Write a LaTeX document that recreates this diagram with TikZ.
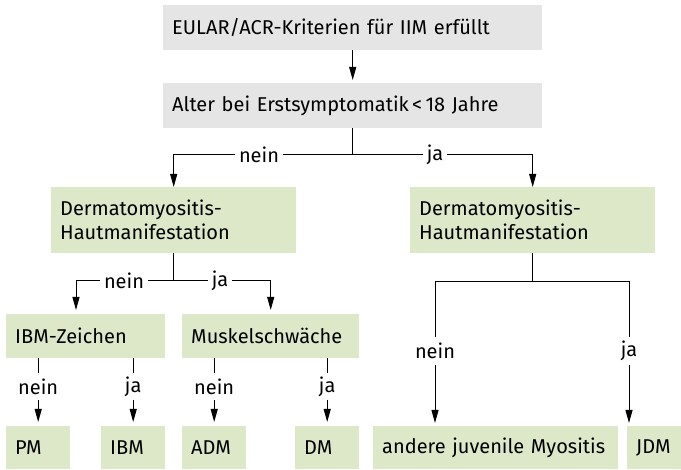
\documentclass[tikz,border=0pt]{standalone}
\usepackage{fontspec}
\setmainfont{Fira Sans}
\usetikzlibrary{arrows.meta,calc}
\definecolor{boxgray}{RGB}{229,229,229}
\definecolor{boxgreen}{RGB}{221,232,200}
\tikzset{
  bx/.style={anchor=north west, rectangle, inner xsep=9pt, inner ysep=0pt, align=left, font=\fontsize{20}{24}\selectfont},
  graybox/.style={bx, fill=boxgray},
  greenbox/.style={bx, fill=boxgreen},
  bxs/.style 2 args={minimum width=#1pt, minimum height=#2pt, text width=#1pt-18pt},
  lbl/.style={fill=white, inner xsep=4pt, inner ysep=0pt, font=\fontsize{20}{24}\selectfont},
  vlbl/.style={fill=white, inner xsep=2pt, inner ysep=0pt, minimum height=27pt, font=\fontsize{20}{24}\selectfont},
  conn/.style={line width=1pt},
  arr/.style={conn, -{Triangle[length=13pt,width=7pt]}},
}
\begin{document}
\begin{tikzpicture}[x=1pt,y=-1pt]
\useasboundingbox (0,0) rectangle (681,470);
% boxes
\node[graybox, bxs={379}{45}] (b1) at (163,5) {EULAR/ACR-Kriterien für IIM erfüllt};
\node[graybox, bxs={379}{45}] (b2) at (163,83) {Alter bei Erstsymptomatik\,<\,18 Jahre};
\node[greenbox, bxs={245}{66}] (d1) at (51,187) {Dermatomyositis-\\Hautmanifestation};
\node[greenbox, bxs={245}{66}] (d2) at (410,187) {Dermatomyositis-\\Hautmanifestation};
\node[greenbox, bxs={159}{44}] (ibz) at (6,314) {IBM-Zeichen};
\node[greenbox, bxs={177}{44}] (msk) at (182,314) {Muskelschwäche};
\node[greenbox, bxs={64}{43}] (pm) at (6,426) {PM};
\node[greenbox, bxs={64}{43}] (ibm) at (101,426) {IBM};
\node[greenbox, bxs={64}{43}] (adm) at (182,426) {ADM};
\node[greenbox, bxs={64}{43}] (dm) at (295,426) {DM};
\node[greenbox, bxs={245}{43}] (ajm) at (373,426) {andere juvenile Myositis};
\node[greenbox, bxs={54}{43}] (jdm) at (627,426) {JDM};
% top connectors
\draw[arr, shorten >=3pt] (b1.south) -- (b2.north);
\coordinate (s1) at (b2.south |- 0,155);
\draw[conn] (b2.south) -- (s1);
\draw[arr] (s1) -| (d1.north);
\draw[arr] (s1) -| (d2.north);
\node[lbl] (n1) at (259,155) {nein};
\node[lbl] (j1) at (435,155) {ja};
% left subtree
\coordinate (s2) at (d1.south |- 0,281);
\coordinate (t2) at (76,314);
\draw[conn] (d1.south) -- (s2);
\draw[arr, shorten >=4pt] (s2) -| (t2);
\draw[arr, shorten >=4pt] (s2) -| (msk.north);
\node[lbl] (n2) at (124,281) {nein};
\node[lbl] (j2) at (220,281) {ja};
% leaves left
\foreach \src/\dst/\txt/\nm in {ibz/pm/nein/n3, ibz/ibm/ja/j3, msk/adm/nein/n4, msk/dm/ja/j4}{
  \draw[arr, shorten >=4pt] (\dst.north |- \src.south) -- (\dst.north);
  \node[vlbl] (\nm) at ($(\dst.north)+(0,-39)$) {\txt};
}
% right subtree
\coordinate (s5) at (d2.south |- 0,282);
\coordinate (t5a) at (435,426);
\coordinate (t5b) at (629,426);
\draw[conn] (d2.south) -- (s5);
\draw[arr, shorten >=3pt] (s5) -| (t5a);
\draw[arr, shorten >=3pt] (s5) -| (t5b);
\node[vlbl, minimum height=28pt] (n5) at (435,351) {nein};
\node[vlbl, minimum height=28pt] (j5) at (629,351) {ja};
\end{tikzpicture}
\end{document}
